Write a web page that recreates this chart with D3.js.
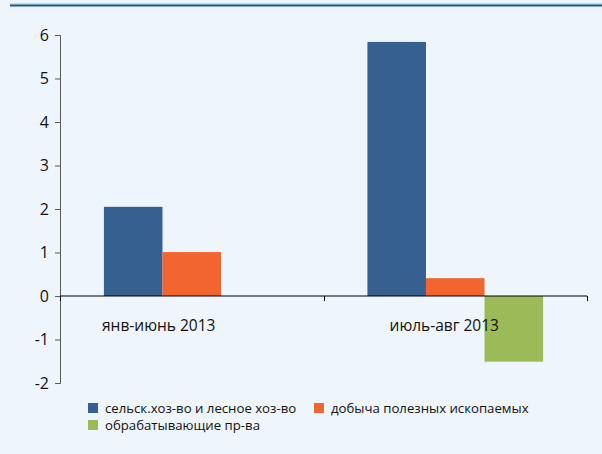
<!DOCTYPE html>
<html>
<head>
<meta charset="utf-8">
<script src="https://cdn.jsdelivr.net/npm/d3@7"></script>
<style>
  html, body { margin: 0; padding: 0; background: #EEF5FC; }
  svg { display: block; font-family: "Open Sans", "Noto Sans", sans-serif; }
</style>
</head>
<body>
<svg id="chart" width="602" height="454"></svg>
<script>
const categories = ["янв-июнь 2013", "июль-авг 2013"];
const seriesNames = ["сельск.хоз-во и лесное хоз-во", "добыча полезных ископаемых", "обрабатывающие пр-ва"];
const agriculture = [2.05, 5.84];
const mining = [1.01, 0.41];
const manufacturing = [null, -1.51];
const yTicks = [-2, -1, 0, 1, 2, 3, 4, 5, 6];
const colors = ["#36608F", "#F26531", "#9BBB59"];

const seriesValues = [agriculture, mining, manufacturing];

const svg = d3.select("#chart");
svg.append("rect").attr("width", 602).attr("height", 454).attr("fill", "#EEF5FC");

// top decorative rule
svg.append("line").attr("x1", 10).attr("x2", 602).attr("y1", 4).attr("y2", 4)
  .attr("stroke", "#A9C4DA").attr("stroke-width", 1);
svg.append("line").attr("x1", 10).attr("x2", 602).attr("y1", 5.5).attr("y2", 5.5)
  .attr("stroke", "#1F5A8A").attr("stroke-width", 2);

const plot = { left: 60, right: 587, top: 35, bottom: 383 };

const x = d3.scaleBand().domain(categories).range([plot.left, plot.right]).paddingInner(0).paddingOuter(0);
const xs = d3.scaleBand().domain(d3.range(seriesNames.length)).range([0, x.bandwidth()])
  .paddingInner(0).paddingOuter(0.75);
const y = d3.scaleLinear().domain([-2, 6]).range([plot.bottom, plot.top]);

// bars
seriesValues.forEach((vals, si) => {
  svg.append("g").selectAll("rect")
    .data(categories.map((c, ci) => ({ c, v: vals[ci] })).filter(d => d.v != null))
    .join("rect")
    .attr("x", d => x(d.c) + xs(si))
    .attr("width", xs.bandwidth())
    .attr("y", d => y(Math.max(0, d.v)))
    .attr("height", d => Math.abs(y(d.v) - y(0)))
    .attr("fill", colors[si]);
});

// y axis
const yAxis = svg.append("g").attr("transform", `translate(${plot.left},0)`)
  .call(d3.axisLeft(y).tickValues(yTicks).tickSize(5).tickPadding(6).tickFormat(d => String(d)));
yAxis.select(".domain").attr("stroke", "#595959");
yAxis.selectAll(".tick line").attr("stroke", "#595959");
yAxis.selectAll("text").attr("font-size", 16).attr("fill", "#111")
  .attr("font-family", "'Open Sans', sans-serif");

// x axis at zero line
const y0 = y(0);
svg.append("line").attr("x1", plot.left).attr("x2", plot.right).attr("y1", y0).attr("y2", y0)
  .attr("stroke", "#000").attr("stroke-width", 1);
const boundaries = categories.map(c => x(c)).concat([x(categories[categories.length - 1]) + x.bandwidth()]);
svg.append("g").selectAll("line").data(boundaries).join("line")
  .attr("x1", d => Math.round(d) + 0.5).attr("x2", d => Math.round(d) + 0.5)
  .attr("y1", y0).attr("y2", y0 + 5)
  .attr("stroke", "#000");

const labelShift = [-33, -11];
svg.append("g").selectAll("text").data(categories).join("text")
  .attr("x", (d, i) => x(d) + x.bandwidth() / 2 + labelShift[i])
  .attr("y", y0 + 35)
  .attr("text-anchor", "middle")
  .attr("font-size", 15.5)
  .attr("fill", "#111")
  .text(d => d);

// legend
const legendItems = [
  { name: seriesNames[0], color: colors[0], lx: 88, ly: 403 },
  { name: seriesNames[1], color: colors[1], lx: 314, ly: 403 },
  { name: seriesNames[2], color: colors[2], lx: 88, ly: 420 }
];
const lg = svg.append("g").selectAll("g").data(legendItems).join("g")
  .attr("transform", d => `translate(${d.lx},${d.ly})`);
lg.append("rect").attr("width", 10).attr("height", 10).attr("fill", d => d.color);
lg.append("text").attr("x", 17).attr("y", 9.5).attr("font-size", 13.2).attr("fill", "#111")
  .text(d => d.name);
</script>
</body>
</html>
